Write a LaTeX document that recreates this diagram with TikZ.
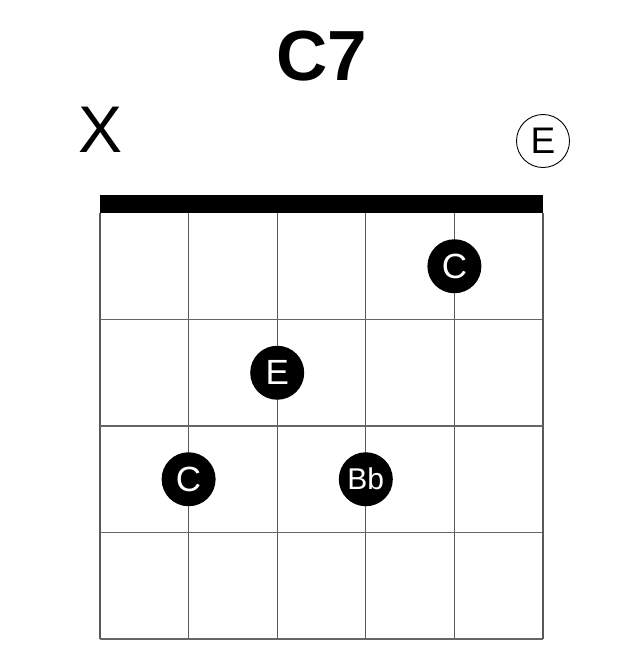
\documentclass[tikz,border=0pt]{standalone}
\usepackage{fontspec}
\setmainfont{Liberation Sans}
\begin{document}
\begin{tikzpicture}[
        x=1pt,
        y=-1pt,
        finger/.style={circle,fill=black,text=white,inner sep=0pt,minimum size=54pt,font=\fontsize{35}{35}\selectfont},
        openstring/.style={circle,draw=black,line width=0.9pt,inner sep=0pt,minimum size=53pt,font=\fontsize{37}{37}\selectfont}]

\useasboundingbox (0,0) rectangle (644,656);
%Titel
\node[font=\fontsize{71}{71}\selectfont\bfseries] (title) at (322,56) {C7};
%Saite gedaempft / leer
\node[font=\fontsize{66}{66}\selectfont] (mute) at (101,130) {X};
\node[openstring] (open) at (543,141) {E};
%Sattel
\fill[black] (100,195) rectangle (543,213);
%Vertikale Linien (Saiten)
\draw[gray!70!black,line width=1.2pt] (100,213)--(100,639);
\draw[gray!70!black,line width=1.2pt] (188.6,213)--(188.6,639);
\draw[gray!70!black,line width=1.2pt] (277.2,213)--(277.2,639);
\draw[gray!70!black,line width=1.2pt] (365.8,213)--(365.8,639);
\draw[gray!70!black,line width=1.2pt] (454.4,213)--(454.4,639);
\draw[gray!70!black,line width=1.2pt] (543,213)--(543,639);
%Horizontale Linien (Buende)
\draw[gray!80!black,line width=1.2pt] (100,319.5)--(543,319.5);
\draw[gray!80!black,line width=1.2pt] (100,426)--(543,426);
\draw[gray!80!black,line width=1.2pt] (100,532.5)--(543,532.5);
\draw[gray!80!black,line width=1.6pt] (100,639)--(543,639);
%Griffpunkte
\node[finger] (c1) at (454.4,266.25) {C};
\node[finger] (e3) at (277.2,372.75) {E};
\node[finger] (c5) at (188.6,479.25) {C};
\node[finger,font=\fontsize{30}{30}\selectfont] (bb3) at (365.8,479.25) {Bb};

\end{tikzpicture}
\end{document}
